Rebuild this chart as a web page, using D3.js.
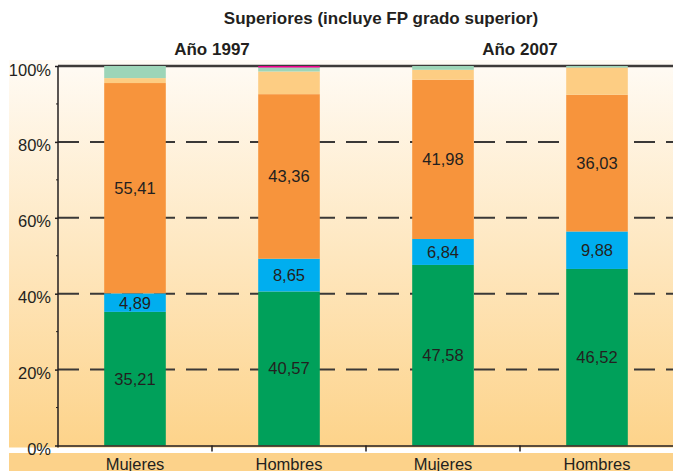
<!DOCTYPE html>
<html>
<head>
<meta charset="utf-8">
<script src="https://cdn.jsdelivr.net/npm/d3@7"></script>
<style>
  body { margin: 0; background: #fff; }
  svg { display: block; font-family: "Liberation Sans", Arial, Helvetica, sans-serif; }
</style>
</head>
<body>
<svg id="chart"></svg>
<script>
const title = 'Superiores (incluye FP grado superior)';
const years = ['Año 1997', 'Año 2007'];
const categories = ['Mujeres', 'Hombres', 'Mujeres', 'Hombres'];
// stacked segments, bottom to top
const seriesA = [35.21, 40.57, 47.58, 46.52]; // green
const seriesB = [4.89, 8.65, 6.84, 9.88];     // blue
const seriesC = [55.41, 43.36, 41.98, 36.03]; // orange
const seriesD = [1.3, 5.97, 2.6, 7.17];       // light orange
const seriesE = [3.19, 1.05, 1.0, 0.4];       // mint
const seriesF = [0, 0.4, 0, 0];               // pink
const yTicks = [0, 20, 40, 60, 80, 100];

const width = 673, height = 471;
const margin = { top: 66, right: -1, bottom: 25.5, left: 58 };
const colors = ['#00a05a', '#00aeef', '#f7943c', '#fdcd83', '#9dd5b8', '#ec008c'];
const labelled = [true, true, true, false, false, false];
const textColor = '#231f20';

const series = [seriesA, seriesB, seriesC, seriesD, seriesE, seriesF];
const ids = categories.map((c, i) => i);

const svg = d3.select('#chart')
    .attr('width', width)
    .attr('height', height);

// background gradient
const defs = svg.append('defs');
const grad = defs.append('linearGradient')
    .attr('id', 'bg')
    .attr('x1', 0).attr('y1', 0).attr('x2', 0).attr('y2', 1);
grad.append('stop').attr('offset', '0%').attr('stop-color', '#fffbf5');
grad.append('stop').attr('offset', '100%').attr('stop-color', '#fdd38a');

const x = d3.scaleBand()
    .domain(ids)
    .range([margin.left, width - margin.right])
    .paddingInner(0.6)
    .paddingOuter(0.3);

const y = d3.scaleLinear()
    .domain([0, 100])
    .range([height - margin.bottom, margin.top]);

svg.append('rect')
    .attr('x', 9).attr('y', 60)
    .attr('width', width - 9)
    .attr('height', y(0) + 2 - 60)
    .attr('fill', 'url(#bg)');

// bottom band for categories
svg.append('rect')
    .attr('x', 9).attr('y', 453)
    .attr('width', width - 9)
    .attr('height', height - 453)
    .attr('fill', '#fcd28a');

// dashed gridlines
svg.append('g')
    .selectAll('line')
    .data(yTicks.filter(t => t > 0 && t < 100))
    .join('line')
    .attr('x1', margin.left).attr('x2', width)
    .attr('y1', d => y(d)).attr('y2', d => y(d))
    .attr('stroke', '#3a3837')
    .attr('stroke-width', 2)
    .attr('stroke-dasharray', '21,11');

// top solid line
svg.append('line')
    .attr('x1', margin.left).attr('x2', width)
    .attr('y1', y(100)).attr('y2', y(100))
    .attr('stroke', '#3d3a39')
    .attr('stroke-width', 2.5);

// stack
const rows = ids.map(i => {
    const r = { id: i };
    series.forEach((s, k) => { r['s' + k] = s[i]; });
    return r;
});
const stack = d3.stack().keys(series.map((s, k) => 's' + k));
const layers = stack(rows);

svg.append('g')
    .selectAll('g')
    .data(layers)
    .join('g')
    .attr('fill', (d, k) => colors[k])
    .selectAll('rect')
    .data(d => d)
    .join('rect')
    .attr('x', d => x(d.data.id))
    .attr('width', x.bandwidth())
    .attr('y', d => y(d[1]))
    .attr('height', d => y(d[0]) - y(d[1]));

// value labels
const fmt = v => d3.format('.2f')(v).replace('.', ',');
layers.forEach((layer, k) => {
    if (!labelled[k]) return;
    svg.append('g')
        .selectAll('text')
        .data(layer)
        .join('text')
        .attr('x', d => x(d.data.id) + x.bandwidth() / 2)
        .attr('y', d => y((d[0] + d[1]) / 2))
        .attr('dy', '0.36em')
        .attr('text-anchor', 'middle')
        .attr('font-size', 16.5)
        .attr('fill', textColor)
        .text(d => fmt(d[1] - d[0]));
});

// y axis
const yAxis = d3.axisLeft(y)
    .tickValues(yTicks)
    .tickSize(3)
    .tickPadding(4)
    .tickFormat(d => d + '%');
const ya = svg.append('g')
    .attr('transform', `translate(${margin.left},0)`)
    .call(yAxis);
ya.select('.domain').remove();
ya.selectAll('.tick line').attr('stroke', '#231f20').attr('stroke-width', 1.5);
ya.selectAll('.tick text')
    .attr('font-size', 16.5)
    .attr('fill', textColor)
    .attr('font-family', null)
    .attr('dy', '0.55em');

// minor ticks
svg.append('g')
    .selectAll('line')
    .data(d3.range(10, 100, 20))
    .join('line')
    .attr('x1', margin.left - 2).attr('x2', margin.left)
    .attr('y1', d => y(d)).attr('y2', d => y(d))
    .attr('stroke', '#231f20').attr('stroke-width', 1);

svg.append('line')
    .attr('x1', margin.left).attr('x2', margin.left)
    .attr('y1', y(100)).attr('y2', y(0) + 2)
    .attr('stroke', '#231f20').attr('stroke-width', 1.5);

// x axis
svg.append('line')
    .attr('x1', margin.left).attr('x2', width)
    .attr('y1', y(0) + 0.5).attr('y2', y(0) + 0.5)
    .attr('stroke', '#231f20').attr('stroke-width', 1.5);

const step = x.step();
svg.append('g')
    .selectAll('line')
    .data(ids.slice(1))
    .join('line')
    .attr('x1', d => x(d) - step * 0.3).attr('x2', d => x(d) - step * 0.3)
    .attr('y1', y(0)).attr('y2', y(0) + 6)
    .attr('stroke', '#231f20').attr('stroke-width', 1.5);

svg.append('g')
    .selectAll('text')
    .data(ids)
    .join('text')
    .attr('x', d => x(d) + x.bandwidth() / 2)
    .attr('y', 469.5)
    .attr('text-anchor', 'middle')
    .attr('font-size', 16.5)
    .attr('fill', textColor)
    .text(d => categories[d]);

// year headers, centered over each pair
svg.append('g')
    .selectAll('text')
    .data(years)
    .join('text')
    .attr('x', (d, i) => (x(ids[i * 2]) + x(ids[i * 2 + 1]) + x.bandwidth()) / 2)
    .attr('y', 55)
    .attr('text-anchor', 'middle')
    .attr('font-size', 17)
    .attr('font-weight', 'bold')
    .attr('fill', textColor)
    .text(d => d);

svg.append('text')
    .attr('x', 381)
    .attr('y', 24)
    .attr('text-anchor', 'middle')
    .attr('font-size', 17)
    .attr('font-weight', 'bold')
    .attr('fill', textColor)
    .text(title);
</script>
</body>
</html>
